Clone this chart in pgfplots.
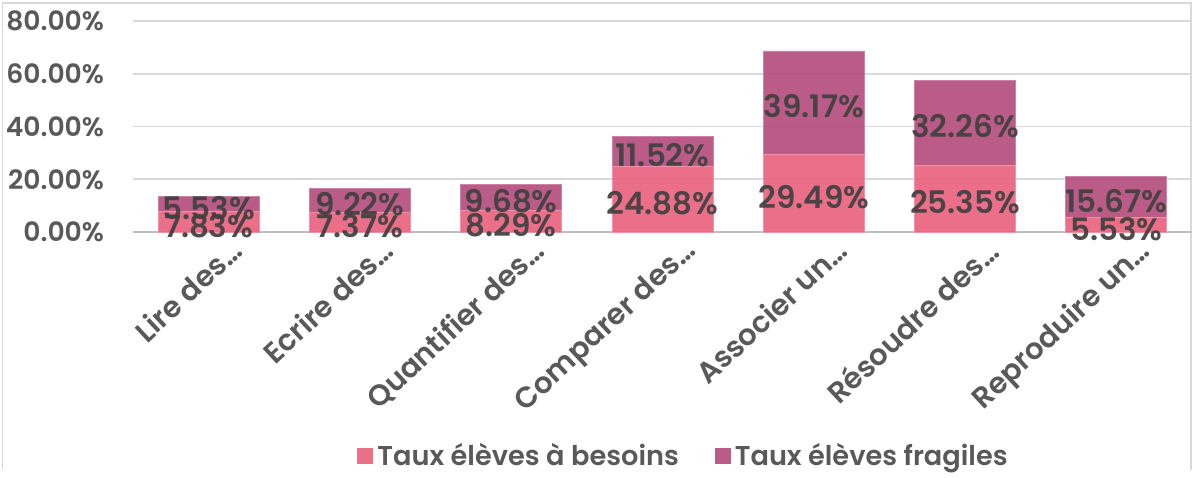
\documentclass[border=0pt]{standalone}
\usepackage{fontspec}
\setmainfont{Poppins}[BoldFont={* SemiBold}]
\usepackage{pgfplots}
\pgfplotsset{compat=1.18}
\definecolor{Besoin}{HTML}{E96480}
\definecolor{Fragile}{HTML}{B6507F}
\definecolor{TickTxt}{HTML}{595959}
\definecolor{LblTxt}{HTML}{404040}
\definecolor{GridC}{HTML}{D9D9D9}
\definecolor{AxisC}{HTML}{BFBFBF}
\definecolor{FrameC}{HTML}{D9D9D9}

\pgfplotstableread{
idx besoins fragiles
0 7.83 5.53
1 7.37 9.22
2 8.29 9.68
3 24.88 11.52
4 29.49 39.17
5 25.35 32.26
6 5.53 15.67
}\scores

\begin{document}
\begin{tikzpicture}
\path[use as bounding box] (0,0) rectangle (596pt,-238.5pt);
\draw[FrameC,line width=0.8pt] (1.2pt,-235pt) -- (1.2pt,-1.5pt) -- (595.4pt,-1.5pt) -- (595.4pt,-235pt);
\begin{axis}[
  at={(66.5pt,-116pt)},anchor=south west,
  scale only axis,width=529.5pt,height=105.5pt,
  ybar stacked,bar width=50.5pt,
  xmin=-0.5,xmax=6.5,ymin=0,ymax=80,
  xtick={0,...,6},
  xticklabels={Lire des…,Ecrire des…,Quantifier des…,Comparer des…,Associer un…,Résoudre des…,Reproduire un…},
  ytick={0,20,40,60,80},
  yticklabel={\pgfmathprintnumber[fixed,fixed zerofill,precision=2]{\tick}\%},
  /pgf/number format/assume math mode=true,
  major tick length=0pt,
  ymajorgrids,grid style={GridC,line width=0.8pt},
  axis x line*=bottom,axis y line*=left,
  x axis line style={AxisC,line width=1pt},
  y axis line style={draw=none},
  tick label style={font=\fontsize{13.3}{16}\selectfont\bfseries,text=TickTxt},
  yticklabel style={anchor=east,xshift=-11pt},
  xticklabel style={font=\fontsize{14.6}{17}\selectfont\bfseries,rotate=43,anchor=north east,xshift=9pt,yshift=-5pt},
  nodes near coords={\pgfmathprintnumber[fixed,fixed zerofill,precision=2]{\pgfplotspointmeta}\%},
  every node near coord/.append style={font=\fontsize{15.5}{18}\selectfont\bfseries,text=LblTxt,
    anchor=center,yshift=-2pt},
  legend columns=2,
  legend style={at={(axis description cs:0.5208,-1.06)},anchor=center,draw=none,fill=none,
    font=\fontsize{13.6}{16}\selectfont\bfseries,text=TickTxt,
    /tikz/every even column/.append style={column sep=16pt}},
  legend image code/.code={\fill[#1,draw=none] (0pt,-4pt) rectangle (8pt,4pt);},
]
\addplot[fill=Besoin,draw=Besoin!70!white,fill opacity=0.93,draw opacity=1] table[x=idx,y=besoins]{\scores};
\addlegendentry{Taux élèves à besoins}
\addplot[fill=Fragile,draw=Fragile!70!white,fill opacity=0.93,draw opacity=1] table[x=idx,y=fragiles]{\scores};
\addlegendentry{Taux élèves fragiles}
\end{axis}
\end{tikzpicture}
\end{document}
